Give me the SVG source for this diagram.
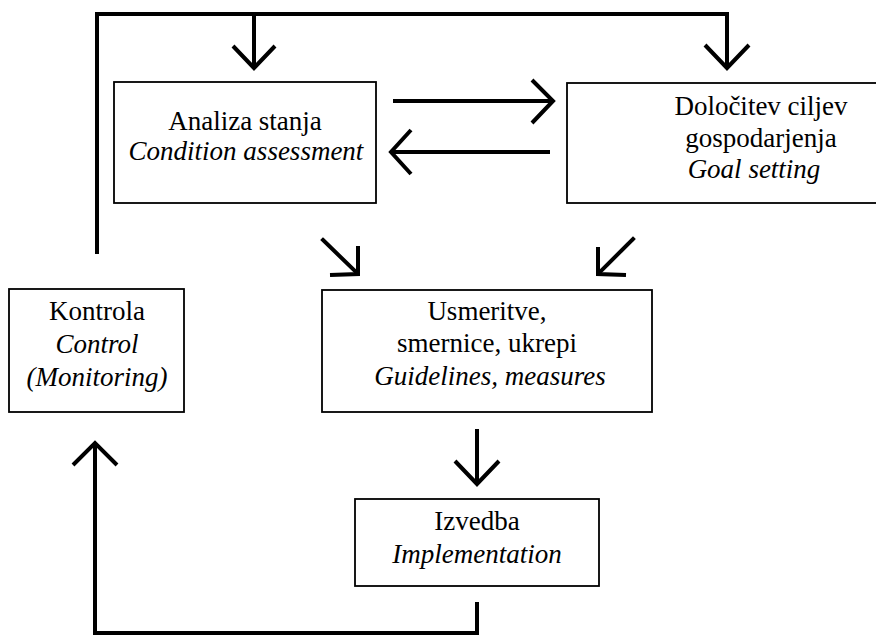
<svg xmlns="http://www.w3.org/2000/svg" width="876" height="636" viewBox="0 0 876 636">
<style>
.box{fill:#fff;stroke:#000;stroke-width:1.8}
.t{font-family:'Liberation Serif','Times New Roman',Times,'DejaVu Serif',serif;font-size:27px;fill:#000;text-anchor:middle}
.i{font-style:italic}
.c{fill:none;stroke:#000;stroke-width:4;stroke-linecap:square;stroke-linejoin:miter}
.h{fill:none;stroke:#000;stroke-width:4;stroke-linecap:butt;stroke-linejoin:miter}
</style>
<rect width="876" height="636" fill="#fff"/>
<g id="connectors">
<path class="c" d="M97,252 V14 H727 V66"/>
<path class="h" d="M705,45 L727,68 L749,45"/>
<path class="c" d="M254,14 V66"/>
<path class="h" d="M233,46 L254,68 L275,46"/>
<path class="c" d="M395,101 H549"/>
<path class="h" d="M532,80 L553,101 L532,123"/>
<path class="c" d="M548,152 H395"/>
<path class="h" d="M411,130 L391,152 L411,174"/>
<path class="c" d="M323,240 L356,272"/>
<path class="h" d="M358,246 L358,274 L330,275"/>
<path class="c" d="M633,239 L600,272"/>
<path class="h" d="M598,247 L598,274 L626,275"/>
<path class="c" d="M477,431 V481"/>
<path class="h" d="M455,461 L477,484 L499,461"/>
<path class="c" d="M477,604 V633 H95 V446"/>
<path class="h" d="M73,465 L95,443 L117,465"/>
</g>
<g id="analiza">
<rect class="box" x="114" y="82" width="262" height="121"/>
<text class="t" x="245" y="130" font-family="Liberation Serif, serif">Analiza stanja</text>
<text class="t i" x="246" y="160" font-family="Liberation Serif, serif">Condition assessment</text>
</g>
<g id="dolocitev">
<rect class="box" x="567" y="83" width="400" height="120"/>
<text class="t" x="761" y="115">Določitev ciljev</text>
<text class="t" x="761" y="147">gospodarjenja</text>
<text class="t i" x="754" y="178">Goal setting</text>
</g>
<g id="kontrola">
<rect class="box" x="9" y="289" width="175" height="123"/>
<text class="t" x="97" y="320">Kontrola</text>
<text class="t i" x="97" y="353">Control</text>
<text class="t i" x="97" y="386">(Monitoring)</text>
</g>
<g id="usmeritve">
<rect class="box" x="322" y="290" width="330" height="122"/>
<text class="t" x="487" y="320">Usmeritve,</text>
<text class="t" x="487" y="352">smernice, ukrepi</text>
<text class="t i" x="490" y="385">Guidelines, measures</text>
</g>
<g id="izvedba">
<rect class="box" x="355" y="499" width="244" height="87"/>
<text class="t" x="477" y="530">Izvedba</text>
<text class="t i" x="477" y="563">Implementation</text>
</g>
</svg>
